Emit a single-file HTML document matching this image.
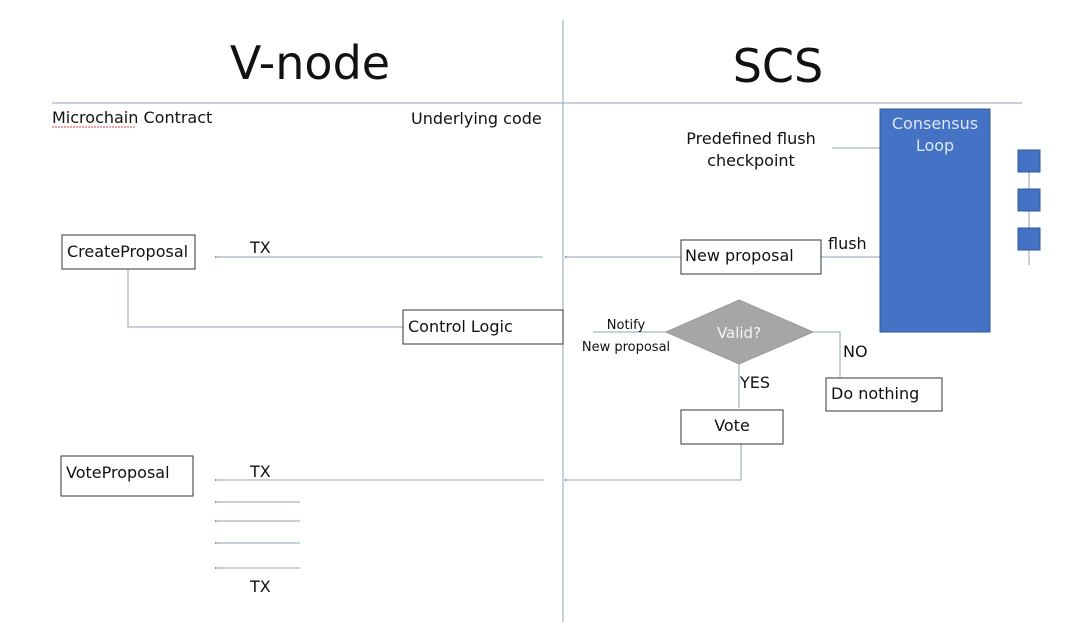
<!DOCTYPE html>
<html><head><meta charset="utf-8"><style>
html,body{margin:0;padding:0;background:#fff;}
svg{display:block;}
text{font-family:"DejaVu Sans","Liberation Sans",sans-serif;fill:#111;}
</style></head><body>
<svg width="1080" height="622" viewBox="0 0 1080 622" xmlns="http://www.w3.org/2000/svg">
<defs>
<marker id="a" markerWidth="4" markerHeight="4" refX="1" refY="2" orient="auto-start-reverse"><path d="M0,2 L3,0.8 L3,3.2z" fill="#8497b0"/></marker>
</defs>
<g stroke="#8fa3b8" stroke-width="1" fill="none">
<line x1="563" y1="20" x2="563" y2="622"/>
<line x1="52" y1="103" x2="1022" y2="103"/>
<line x1="832" y1="148" x2="880" y2="148"/>
<line x1="1029" y1="172" x2="1029" y2="265"/>
<line x1="821" y1="257" x2="880" y2="257"/>
<line x1="543" y1="257" x2="217" y2="257" marker-end="url(#a)"/>
<line x1="681" y1="257" x2="567" y2="257" marker-end="url(#a)"/>
<polyline points="128,269 128,327 403,327"/>
<line x1="593" y1="332" x2="666" y2="332"/>
<polyline points="813,332 840,332 840,377"/>
<line x1="739" y1="364" x2="739" y2="408"/>
<polyline points="741,444 741,480 567,480" marker-end="url(#a)"/>
<line x1="544" y1="480" x2="217" y2="480" marker-end="url(#a)"/>
<line x1="300" y1="502" x2="217" y2="502" marker-end="url(#a)"/>
<line x1="300" y1="521" x2="217" y2="521" marker-end="url(#a)"/>
<line x1="300" y1="543" x2="217" y2="543" marker-end="url(#a)"/>
<line x1="300" y1="568" x2="217" y2="568" marker-end="url(#a)"/>
</g>
<text x="310" y="79" font-size="46" text-anchor="middle" font-family="Liberation Sans">V-node</text>
<text x="778" y="82" font-size="46" text-anchor="middle" font-family="Liberation Sans">SCS</text>
<text x="52" y="123" font-size="16">Microchain Contract</text>
<line x1="52" y1="127" x2="135" y2="127" stroke="#d44" stroke-width="1" stroke-dasharray="2,1"/>
<text x="411" y="124" font-size="16">Underlying code</text>
<rect x="880" y="109" width="110" height="223" fill="#4472c4" stroke="#2f5597"/>
<text x="935" y="129" font-size="16" text-anchor="middle" style="fill:#dde6f5">Consensus</text>
<text x="935" y="151" font-size="16" text-anchor="middle" style="fill:#dde6f5">Loop</text>
<rect x="1018" y="150" width="22" height="22" fill="#4472c4" stroke="#2f5597"/>
<rect x="1018" y="189" width="22" height="22" fill="#4472c4" stroke="#2f5597"/>
<rect x="1018" y="228" width="22" height="22" fill="#4472c4" stroke="#2f5597"/>
<text x="751" y="144" font-size="16" text-anchor="middle">Predefined flush</text>
<text x="751" y="166" font-size="16" text-anchor="middle">checkpoint</text>
<g fill="#fff" stroke="#333" stroke-width="1">
<rect x="62" y="235" width="133" height="34"/>
<rect x="681" y="240" width="140" height="34"/>
<rect x="403" y="310" width="160" height="34"/>
<rect x="826" y="378" width="116" height="33"/>
<rect x="681" y="410" width="102" height="34"/>
<rect x="61" y="456" width="132" height="40"/>
</g>
<polygon points="739,300 813,332 739,364 666,332" fill="#a6a6a6" stroke="#999"/>
<text x="739" y="338" font-size="15" text-anchor="middle" style="fill:#f4f4f4">Valid?</text>
<g font-size="16">
<text x="67" y="257">CreateProposal</text>
<text x="685" y="261">New proposal</text>
<text x="828" y="249">flush</text>
<text x="408" y="332">Control Logic</text>
<text x="831" y="399">Do nothing</text>
<text x="732" y="431" text-anchor="middle">Vote</text>
<text x="66" y="478">VoteProposal</text>
<text x="250" y="253">TX</text>
<text x="250" y="477">TX</text>
<text x="250" y="592">TX</text>
<text x="843" y="357">NO</text>
<text x="740" y="388">YES</text>
</g>
<text x="626" y="329" font-size="13" text-anchor="middle">Notify</text>
<text x="626" y="351" font-size="13" text-anchor="middle">New proposal</text>
</svg>
</body></html>
